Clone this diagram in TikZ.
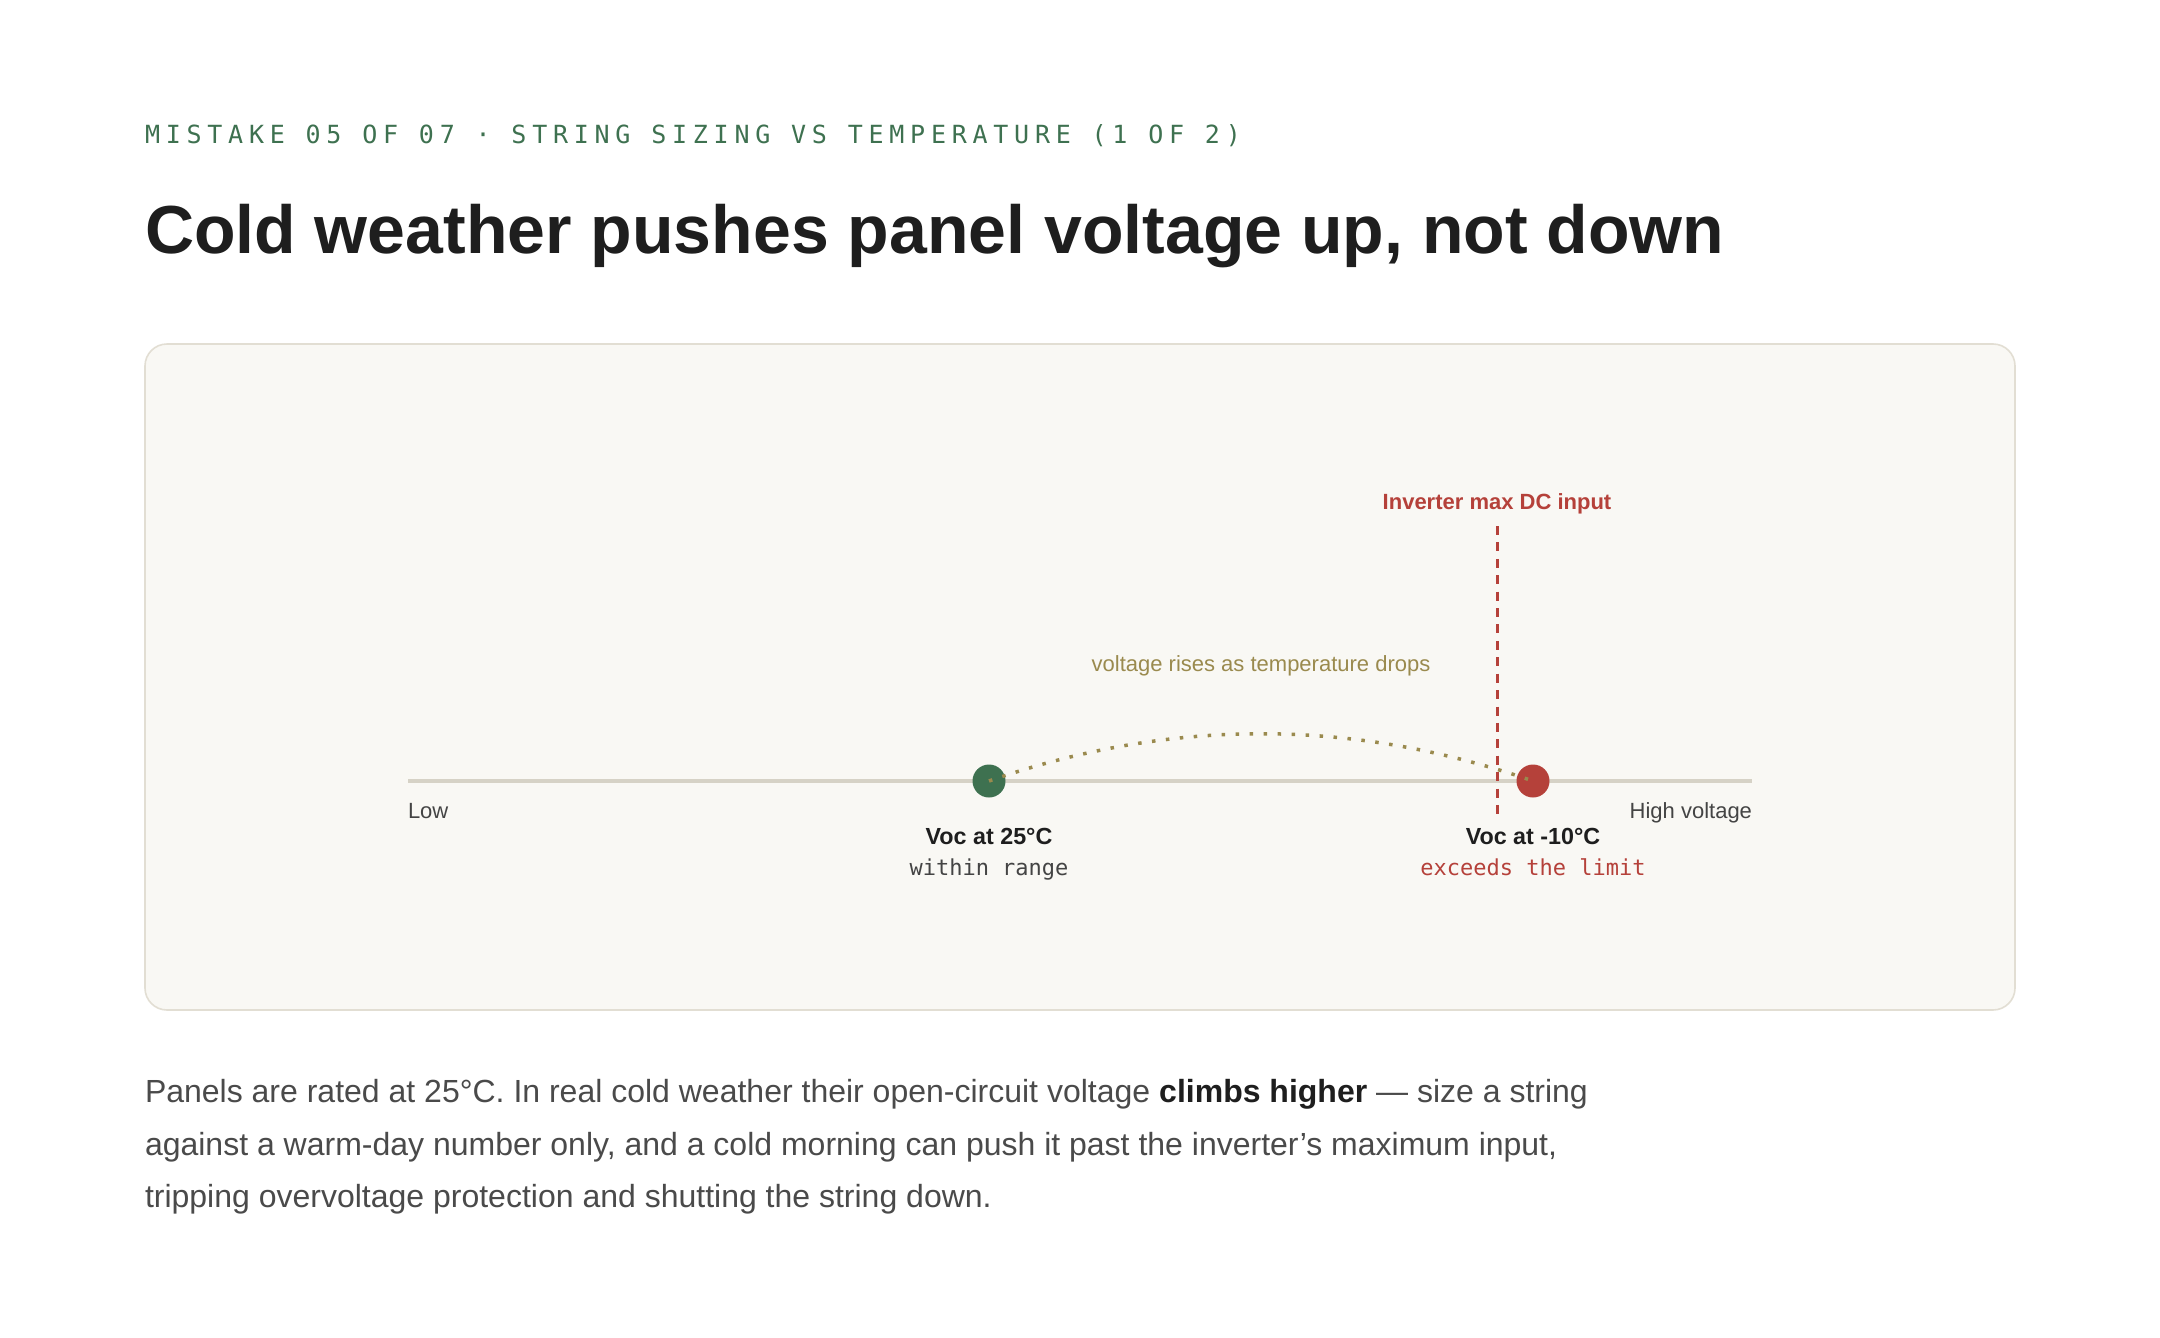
\documentclass[tikz,border=0pt]{standalone}
\usepackage{fontspec}
\setmainfont{Liberation Sans}[Ligatures=ResetAll]
\newfontfamily\monofont{DejaVu Sans Mono}
\newfontfamily\eyebrowfont[LetterSpace=23]{DejaVu Sans Mono}
\definecolor{cardfill}{HTML}{F9F8F4}
\definecolor{cardborder}{HTML}{E2DED3}
\definecolor{axisgray}{HTML}{D6D2C6}
\definecolor{leafgreen}{HTML}{3E7150}
\definecolor{alertred}{HTML}{B5413A}
\definecolor{olive}{HTML}{9A8A4E}
\definecolor{inkdark}{HTML}{1E1E1E}
\definecolor{bodygray}{HTML}{4A4A4A}
\definecolor{labelgray}{HTML}{444444}
\begin{document}
\begin{tikzpicture}[x=1pt,y=-1pt,
  txt/.style={inner sep=0pt, outer sep=0pt},
  dot/.style={circle, inner sep=0pt, minimum size=33pt},
  axislbl/.style={txt, anchor=base, font=\fontsize{22}{26}\selectfont, text=labelgray},
  voclbl/.style={txt, anchor=base, font=\fontsize{23.3}{26}\selectfont\bfseries, text=inkdark},
  sublbl/.style={txt, anchor=base, font=\fontsize{22}{26}\selectfont\monofont},
  bodyline/.style={txt, anchor=base west, font=\fontsize{32}{40}\selectfont, text=bodygray}]
\useasboundingbox (0,0) rectangle (2160,1338);
\fill[white] (0,0) rectangle (2160,1338);
% header
\node[txt, anchor=base west, font=\fontsize{25}{30}\selectfont\eyebrowfont, text=leafgreen] (eyebrow) at (145,143) {MISTAKE 05 OF 07 · STRING SIZING VS TEMPERATURE (1 OF 2)};
\node[txt, anchor=base west, font=\fontsize{68}{80}\selectfont\bfseries, text=inkdark] (title) at (145,253) {Cold weather pushes panel voltage up, not down};
% card
\draw[fill=cardfill, draw=cardborder, line width=1.6pt, rounded corners=22pt] (145,344) rectangle (2015,1010);
% axis
\coordinate (axL) at (408,781);
\coordinate (axR) at (1752,781);
\draw[axisgray, line width=4pt] (axL) -- (axR);
\node[axislbl, anchor=base west] (low) at (408,818) {Low};
\node[axislbl, anchor=base east] (high) at (1752,818) {High voltage};
% limit line
\coordinate (limT) at (1497,526);
\coordinate (limB) at (1497,814);
\draw[alertred, line width=3pt, dash pattern=on 9pt off 7.41pt] (limT) -- (limB);
\node[txt, anchor=base, font=\fontsize{22}{26}\selectfont\bfseries, text=alertred] (limlbl) at (1497,509) {Inverter max DC input};
% dots
\node[dot, fill=leafgreen] (g) at (989,781) {};
\node[dot, fill=alertred] (r) at (1533,781) {};
% curve
\draw[olive, line width=3.5pt, dash pattern=on 3.5pt off 10.5pt] (g.center) .. controls (1170,718) and (1352,718) .. (r.center);
\node[txt, anchor=base, font=\fontsize{22}{26}\selectfont, text=olive] (curvelbl) at (1261,671) {voltage rises as temperature drops};
% dot labels
\node[voclbl] (gl) at (989,844) {Voc at 25°C};
\node[sublbl, text=labelgray] (gs) at (989,875) {within range};
\node[voclbl] (rl) at (1533,844) {Voc at -10°C};
\node[sublbl, text=alertred] (rs) at (1533,875) {exceeds the limit};
% body
\node[bodyline] (b1) at (145,1102) {Panels are rated at 25°C. In real cold weather their open-circuit voltage {\bfseries\color{inkdark}climbs higher} — size a string};
\node[bodyline] (b2) at (145,1155) {against a warm-day number only, and a cold morning can push it past the inverter's maximum input,};
\node[bodyline] (b3) at (145,1207) {tripping overvoltage protection and shutting the string down.};
\end{tikzpicture}
\end{document}
